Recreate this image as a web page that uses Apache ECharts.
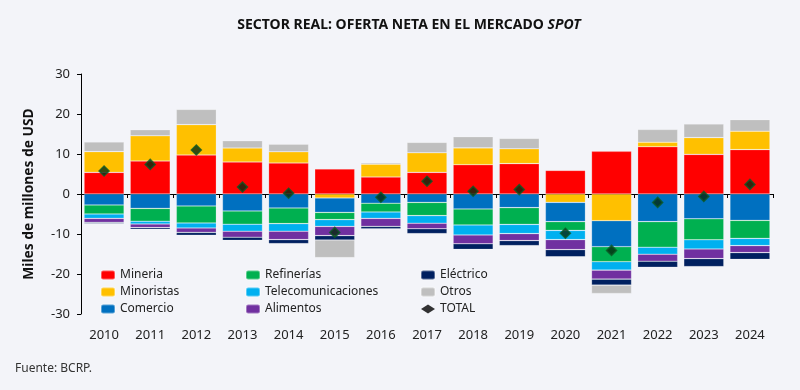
<!DOCTYPE html>
<html>
<head>
<meta charset="utf-8">
<script src="https://cdn.jsdelivr.net/npm/echarts@6/dist/echarts.min.js"></script>
<style>
html,body{margin:0;padding:0;background:#F3F4F9;}
#c{width:800px;height:390px;}
</style>
</head>
<body>
<div id="c"></div>
<script>
var years = ['2010','2011','2012','2013','2014','2015','2016','2017','2018','2019','2020','2021','2022','2023','2024'];
var mineria    = [5.4, 8.25, 9.75, 8.0, 7.75, 6.25, 4.25, 5.4, 7.33, 7.6, 5.9, 10.67, 11.83, 9.9, 11.1];
var minoristas = [5.2, 6.3, 7.6, 3.5, 2.8, -1.0, 3.2, 4.9, 4.2, 3.7, -2.1, -6.67, 1.1, 4.2, 4.6];
var comercio   = [-2.75, -3.6, -3.0, -4.25, -3.5, -3.6, -2.3, -2.1, -3.75, -3.4, -4.8, -6.5, -6.9, -6.2, -6.6];
var refinerias = [-2.25, -3.2, -4.25, -3.3, -3.9, -1.8, -2.2, -3.3, -4.0, -4.2, -2.2, -3.75, -6.4, -5.25, -4.5];
var telecom    = [-1.1, -0.7, -1.25, -1.75, -1.9, -1.7, -1.6, -1.9, -2.5, -2.3, -2.3, -2.1, -1.75, -2.3, -1.8];
var alimentos  = [-1.0, -0.9, -1.1, -1.5, -2.1, -2.3, -2.0, -1.4, -2.2, -1.75, -2.5, -2.25, -1.75, -2.4, -1.75];
var electrico  = [-0.3, -0.4, -0.7, -0.8, -1.0, -1.1, -0.6, -1.2, -1.4, -1.25, -1.8, -1.5, -1.5, -2.0, -1.7];
var otros      = [2.4, 1.5, 3.8, 1.8, 1.9, -4.4, 0.33, 2.6, 2.8, 2.6, 0, -2.1, 3.2, 3.4, 2.9];
var total      = [5.75, 7.4, 11.0, 1.75, 0.2, -9.6, -0.8, 3.2, 0.7, 1.1, -9.8, -14.1, -2.1, -0.6, 2.4];
var yTicks = [-30, -20, -10, 0, 10, 20, 30];

var FONT = 'Noto Sans';
var chart = echarts.init(document.getElementById('c'));
function bar(name, data, color) {
  return {
    name: name, type: 'bar', stack: 'all', data: data, xAxisIndex: 0,
    barWidth: 40,
    itemStyle: { color: color, borderColor: 'rgba(255,255,255,0.35)', borderWidth: 0.6 },
    emphasis: { disabled: true }
  };
}
var legendText = { fontFamily: FONT, fontSize: 12, color: '#222' };
var option = {
  backgroundColor: '#F3F4F9',
  animation: false,
  textStyle: { fontFamily: FONT },
  title: {
    text: '{b|SECTOR REAL: OFERTA NETA EN EL MERCADO }{i|SPOT}',
    left: 404, top: 13, textAlign: 'center',
    textStyle: {
      rich: {
        b: { fontFamily: FONT, fontSize: 14, fontWeight: 'bold', color: '#111' },
        i: { fontFamily: FONT, fontSize: 14, fontWeight: 'bold', fontStyle: 'italic', color: '#111' }
      }
    }
  },
  graphic: [{
    type: 'text', left: 15, top: 363,
    style: { text: 'Fuente: BCRP.', fontFamily: FONT, fontSize: 12, fill: '#333' }
  }],
  legend: [
    { orient: 'vertical', left: 95, top: 264, itemWidth: 14, itemHeight: 9, itemGap: 5,
      data: ['Mineria', 'Minoristas', 'Comercio'], textStyle: legendText, selectedMode: false },
    { orient: 'vertical', left: 240, top: 264, itemWidth: 14, itemHeight: 9, itemGap: 5,
      data: ['Refinerías', 'Telecomunicaciones', 'Alimentos'], textStyle: legendText, selectedMode: false },
    { orient: 'vertical', left: 415, top: 264, itemWidth: 14, itemHeight: 9, itemGap: 5,
      data: ['Eléctrico', 'Otros', { name: 'TOTAL', icon: 'diamond', itemStyle: { color: '#000', borderWidth: 0 } }],
      textStyle: legendText, selectedMode: false }
  ],
  grid: { left: 81, right: 27, top: 74, bottom: 76, containLabel: false },
  xAxis: [
    { type: 'category', data: years, position: 'bottom',
      axisLine: { onZero: true, lineStyle: { color: '#000', width: 1.2 } },
      axisTick: { show: true, alignWithLabel: false, length: 4, lineStyle: { color: '#000' } },
      axisLabel: { show: false } },
    { type: 'category', data: years, position: 'bottom',
      axisLine: { show: false, onZero: false }, axisTick: { show: false },
      axisLabel: { show: true, margin: 15, fontFamily: FONT, fontSize: 13, color: '#222' } }
  ],
  yAxis: {
    type: 'value', min: yTicks[0], max: yTicks[yTicks.length - 1], interval: 10,
    name: 'Miles de millones de USD', nameLocation: 'middle', nameGap: 45,
    nameTextStyle: { fontFamily: FONT, fontSize: 13.8, fontWeight: 'bold', color: '#111' },
    axisLine: { show: true, lineStyle: { color: '#000' } },
    axisTick: { show: true, length: 4, lineStyle: { color: '#000' } },
    splitLine: { show: false },
    axisLabel: { margin: 11, fontFamily: FONT, fontSize: 13, color: '#222' }
  },
  series: [
    bar('Mineria', mineria, '#FF0000'),
    bar('Minoristas', minoristas, '#FFC000'),
    bar('Comercio', comercio, '#0070C0'),
    bar('Refinerías', refinerias, '#00B050'),
    bar('Telecomunicaciones', telecom, '#00B0F0'),
    bar('Alimentos', alimentos, '#7030A0'),
    bar('Eléctrico', electrico, '#002060'),
    bar('Otros', otros, '#BFBFBF'),
    { name: 'TOTAL', type: 'scatter', data: total, xAxisIndex: 0, symbol: 'diamond', symbolSize: 10,
      itemStyle: { color: '#062b10', borderColor: '#0b5a25', borderWidth: 1.5 }, z: 10,
      emphasis: { disabled: true } }
  ]
};
chart.setOption(option);
</script>
</body>
</html>
